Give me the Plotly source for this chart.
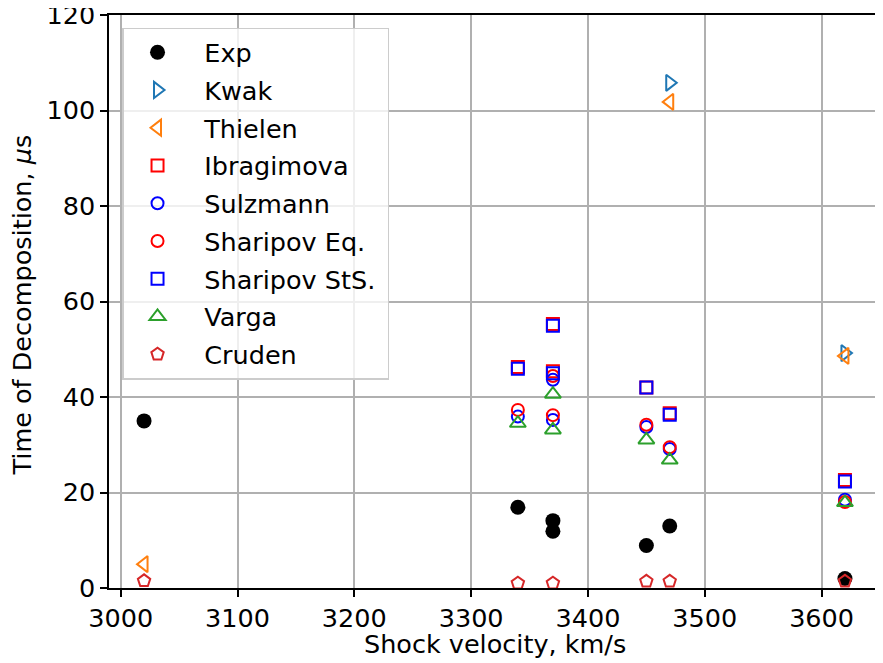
import plotly.graph_objects as go

# ---- data ----
exp_x = [3020, 3340, 3370, 3370, 3450, 3470, 3620]
exp_y = [35.0, 16.9, 14.1, 11.9, 8.9, 13.0, 2.0]

kwak_x = [3470, 3620]
kwak_y = [105.8, 49.2]

thielen_x = [3020, 3470, 3620]
thielen_y = [5.0, 101.8, 48.6]

model_x = [3340, 3370, 3370, 3450, 3470, 3620]
ibragimova_y = [46.3, 55.3, 45.4, 42.0, 36.6, 22.6]
sulzmann_y = [35.9, 43.6, 35.2, 33.7, 29.1, 18.5]
sharipov_eq_y = [37.3, 44.4, 36.2, 34.2, 29.5, 18.0]
sharipov_sts_y = [45.9, 54.9, 45.0, 42.0, 36.3, 22.3]
varga_y = [34.5, 40.6, 33.1, 31.0, 26.8, 17.9]

cruden_x = [3020, 3340, 3370, 3450, 3470, 3620]
cruden_y = [1.5, 1.0, 1.0, 1.4, 1.4, 1.4]

x_ticks = [3000, 3100, 3200, 3300, 3400, 3500, 3600]
y_ticks = [0, 20, 40, 60, 80, 100, 120]

x_title = "Shock velocity, km/s"
y_title = "Time of Decomposition, <i>μ</i>s"

FONT = "DejaVu Sans"
FS = 25.5
PAD = "\u2002"   # space between legend symbol and label
TAIL = "\u2005"  # small trailing space to widen the legend box

series = [
    ("Exp", exp_x, exp_y, "circle", "black", 15),
    ("Kwak", kwak_x, kwak_y, "triangle-right-open", "#1f77b4", 14),
    ("Thielen", thielen_x, thielen_y, "triangle-left-open", "#ff7f0e", 14),
    ("Ibragimova", model_x, ibragimova_y, "square-open", "#ff0000", 12),
    ("Sulzmann", model_x, sulzmann_y, "circle-open", "#0000ff", 12),
    ("Sharipov Eq.", model_x, sharipov_eq_y, "circle-open", "#ff0000", 12),
    ("Sharipov StS.", model_x, sharipov_sts_y, "square-open", "#0000ff", 12),
    ("Varga", model_x, varga_y, "triangle-up-open", "#2ca02c", 14),
    ("Cruden", cruden_x, cruden_y, "pentagon-open", "#d62728", 13),
]

fig = go.Figure()
for i, (name, xs, ys, sym, col, sz) in enumerate(series):
    marker = dict(symbol=sym, color=col, size=sz)
    if sym.endswith("open"):
        marker["line"] = dict(color=col, width=2)
    else:
        marker["line"] = dict(width=0)
    fig.add_trace(go.Scatter(x=xs, y=ys, mode="markers", name=PAD + name + TAIL,
                             marker=marker, legendgroup=f"g{i}"))

axis_common = dict(
    showline=True, linecolor="black", linewidth=1.5, mirror=True,
    showgrid=True, gridcolor="#b0b0b0", gridwidth=1.5,
    ticks="outside", ticklen=7, tickwidth=1.5, tickcolor="black",
    zeroline=False, automargin=False, ticklabeloverflow="allow",
    tickfont=dict(family=FONT, size=FS, color="black"),
)

# The page body has an 8px default margin, so the figure is drawn offset by 8px.
fig.update_layout(
    width=875, height=655,
    margin=dict(l=101, r=3, t=7, b=75, autoexpand=False),
    plot_bgcolor="white", paper_bgcolor="white",
    font=dict(family=FONT, size=FS, color="black"),
    showlegend=True,
    legend=dict(
        x=0.0169, y=0.978, xanchor="left", yanchor="top",
        bgcolor="rgba(255,255,255,0.8)", bordercolor="#cccccc", borderwidth=1.5,
        font=dict(family=FONT, size=FS, color="black"),
        tracegroupgap=1.6, traceorder="grouped", itemwidth=58,
    ),
    xaxis=dict(range=[2990, 3650], tickvals=x_ticks, **axis_common),
    yaxis=dict(range=[0, 120], tickvals=y_ticks, **axis_common),
    annotations=[
        dict(text=x_title, xref="paper", yref="paper", x=0.5, y=0,
             xanchor="center", yanchor="middle", yshift=-56, showarrow=False,
             font=dict(family=FONT, size=FS, color="black")),
        dict(text=y_title, xref="paper", yref="paper", x=0, y=0.5,
             xanchor="center", yanchor="middle", xshift=-88, yshift=-4,
             textangle=-90, showarrow=False,
             font=dict(family=FONT, size=FS, color="black")),
    ],
)

fig.write_html("out.html")
